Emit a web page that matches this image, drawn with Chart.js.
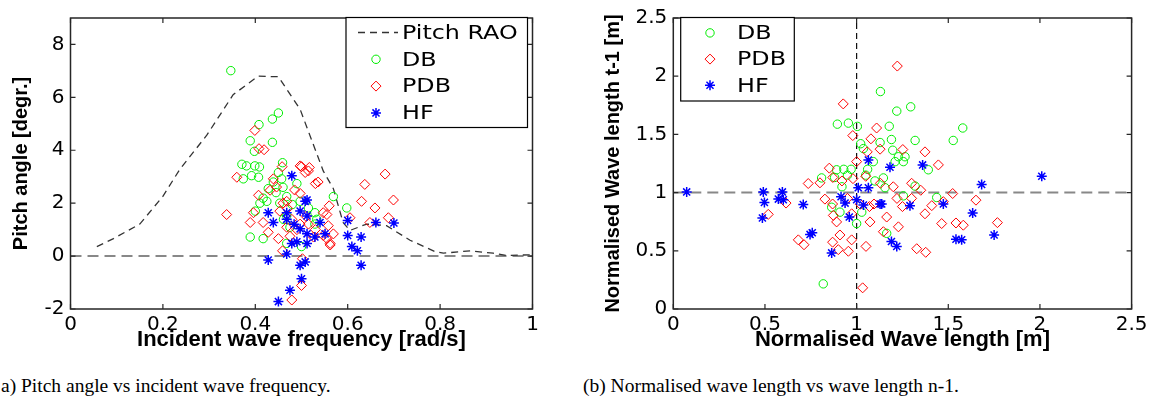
<!DOCTYPE html>
<html>
<head>
<meta charset="utf-8">
<script src="https://cdn.jsdelivr.net/npm/chart.js@4.4.0/dist/chart.umd.min.js"></script>
<style>
body { margin: 0; background: #fff; width: 1152px; height: 405px; overflow: hidden; position: relative; }
canvas { position: absolute; top: 0; }
#pitchChart { left: 0; }
#lengthChart { left: 580px; }
.caption { position: absolute; top: 375px; font-family: "Liberation Serif", serif; font-size: 19.5px; color: #000; white-space: nowrap; }
</style>
</head>
<body>
<canvas id="pitchChart" width="560" height="360"></canvas>
<canvas id="lengthChart" width="572" height="360"></canvas>
<div class="caption" style="left:1px">a) Pitch angle vs incident wave frequency.</div>
<div class="caption" style="left:583px">(b) Normalised wave length vs wave length n-1.</div>
<script>
// ---- (a) pitch angle vs frequency ----
var raoFreq  = [0.057, 0.093, 0.15, 0.2, 0.237, 0.295, 0.352, 0.406, 0.45, 0.497, 0.547, 0.569, 0.59, 0.605, 0.641, 0.684, 0.735, 0.789, 0.807, 0.865, 0.915, 0.944, 0.995];
var raoPitch = [0.36, 0.66, 1.21, 2.26, 3.29, 4.57, 6.1, 6.8, 6.78, 5.55, 3.22, 2.55, 1.27, 0.97, 1.21, 1.15, 0.6, 0.17, 0.11, 0.2, 0.11, 0.02, 0.05];

var dbFreq  = [0.347, 0.408, 0.437, 0.45, 0.389, 0.437, 0.398, 0.459, 0.371, 0.381, 0.399, 0.409, 0.45, 0.374, 0.392, 0.407, 0.439, 0.457, 0.428, 0.41, 0.417, 0.425, 0.453, 0.468, 0.49, 0.461, 0.468, 0.515, 0.497, 0.569, 0.533, 0.475, 0.389, 0.417, 0.468, 0.5, 0.4, 0.598, 0.529, 0.529, 0.48, 0.445, 0.46];
var dbPitch = [7.01, 4.97, 5.18, 5.41, 4.36, 4.3, 3.96, 3.53, 3.47, 3.41, 3.41, 3.37, 3.16, 2.92, 3.04, 2.98, 2.8, 2.92, 2.55, 2.0, 2.19, 2.07, 2.0, 2.25, 2.74, 1.39, 1.52, 1.82, 2.07, 2.25, 1.39, 1.09, 0.72, 0.66, 0.48, 0.36, 1.7, 1.82, 1.21, 1.64, 1.95, 2.4, 2.6];

var pdbFreq  = [0.399, 0.408, 0.419, 0.458, 0.5, 0.517, 0.681, 0.637, 0.699, 0.63, 0.659, 0.688, 0.648, 0.605, 0.56, 0.547, 0.558, 0.562, 0.569, 0.536, 0.515, 0.5, 0.502, 0.338, 0.36, 0.389, 0.396, 0.407, 0.417, 0.428, 0.45, 0.459, 0.479, 0.497, 0.508, 0.53, 0.497, 0.497, 0.432, 0.446, 0.439, 0.46, 0.453, 0.555, 0.479, 0.468, 0.515, 0.555, 0.562, 0.468, 0.526, 0.547, 0.47, 0.49, 0.51, 0.53, 0.485, 0.475];
var pdbPitch = [4.75, 4.06, 4.02, 3.38, 3.38, 3.35, 3.1, 2.71, 2.12, 2.07, 1.82, 1.45, 1.27, 1.45, 1.9, 1.64, 1.15, 0.48, 0.84, 2.8, 3.22, -1.11, -0.1, 1.57, 2.98, 1.27, 1.64, 2.3, 1.27, 0.9, 0.66, 0.2, -1.66, 3.41, 3.16, 2.74, 2.37, 1.21, 2.49, 2.61, 2.92, 2.0, 1.7, 1.57, 1.39, 1.09, 1.21, 0.66, 0.42, 2.07, 0.72, 0.78, 1.8, 1.0, 1.5, 1.0, 2.5, 0.75];

var hfFreq  = [0.479, 0.428, 0.439, 0.468, 0.468, 0.497, 0.512, 0.512, 0.497, 0.512, 0.479, 0.49, 0.512, 0.468, 0.428, 0.497, 0.508, 0.5, 0.475, 0.45, 0.54, 0.551, 0.529, 0.6, 0.6, 0.609, 0.621, 0.629, 0.629, 0.661, 0.7, 0.508, 0.484];
var hfPitch = [3.04, 1.64, 1.27, 1.64, 1.39, 1.7, 2.12, 1.52, 1.03, 0.84, 0.48, 0.54, 0.48, 0.08, -0.15, -0.35, -0.22, -0.86, -1.29, -1.72, 1.27, 0.84, 0.72, 1.35, 0.78, 0.36, 0.2, 0.72, -0.35, 1.27, 1.25, 2.07, 1.2];

var pitchXTicks  = [0, 0.2, 0.4, 0.6, 0.8, 1];
var pitchXLabels = ['0', '0.2', '0.4', '0.6', '0.8', '1'];
var pitchYTicks  = [-2, 0, 2, 4, 6, 8];
var pitchYLabels = ['-2', '0', '2', '4', '6', '8'];

// ---- (b) normalised wave length vs previous ----
var dbLen     = [1.13, 1.219, 1.295, 0.895, 0.955, 1.004, 1.178, 1.579, 1.527, 1.022, 1.037, 1.128, 1.19, 1.319, 1.197, 1.228, 1.264, 1.21, 1.255, 1.091, 1.391, 0.891, 0.93, 0.97, 0.809, 0.818, 0.864, 0.909, 1.0, 1.028, 1.164, 1.319, 1.437, 1.255, 1.146, 1.155, 0.88, 0.95, 1.05, 1.1, 0.92, 1.06];
var dbLenPrev = [1.868, 1.7, 1.737, 1.588, 1.597, 1.569, 1.57, 1.555, 1.448, 1.42, 1.378, 1.43, 1.456, 1.448, 1.364, 1.308, 1.308, 1.266, 1.266, 1.266, 1.196, 1.196, 1.2, 1.2, 1.126, 0.216, 0.874, 0.832, 0.734, 0.832, 0.65, 1.056, 0.958, 0.972, 1.126, 1.042, 1.13, 1.15, 1.15, 1.1, 1.05, 1.2];

var pdbLen     = [0.927, 1.222, 0.979, 1.109, 1.078, 1.128, 1.058, 1.0, 0.851, 1.252, 1.373, 1.446, 0.518, 0.615, 0.736, 0.682, 0.713, 0.8, 0.827, 0.869, 0.873, 0.891, 0.909, 0.869, 0.9, 0.955, 0.973, 0.973, 1.051, 1.033, 1.073, 1.095, 1.164, 1.524, 1.651, 1.473, 1.373, 1.41, 1.464, 1.542, 1.582, 1.768, 1.228, 1.328, 1.377, 1.146, 0.87, 0.92, 0.98, 1.05, 1.13, 1.2, 1.22, 1.3, 1.35, 0.95, 1.02, 1.07, 1.25, 1.3];
var pdbLenPrev = [1.762, 2.087, 1.49, 1.555, 1.462, 1.373, 1.35, 1.266, 1.21, 1.37, 1.35, 1.238, 0.813, 0.91, 1.078, 0.594, 0.552, 1.084, 0.944, 0.902, 0.804, 0.748, 0.636, 0.574, 0.51, 0.496, 0.594, 0.818, 0.538, 0.182, 0.748, 0.902, 0.79, 0.992, 0.935, 0.922, 0.818, 0.888, 0.734, 0.739, 0.72, 0.742, 0.706, 0.518, 0.487, 0.664, 1.13, 1.1, 1.12, 1.14, 1.08, 1.05, 0.95, 1.08, 1.02, 0.95, 0.9, 0.88, 0.88, 0.95];

var hfLen     = [1.064, 1.182, 1.36, 0.073, 0.491, 0.595, 0.497, 0.573, 0.6, 0.486, 0.709, 0.746, 0.758, 0.864, 0.915, 0.937, 0.96, 1.009, 1.0, 1.064, 1.037, 1.128, 1.19, 1.219, 2.01, 1.682, 1.137, 1.291, 1.473, 1.633, 1.542, 1.573, 1.75];
var hfLenPrev = [1.28, 1.218, 1.238, 1.006, 1.006, 1.006, 0.916, 0.944, 0.939, 0.782, 0.897, 0.641, 0.655, 0.482, 0.964, 0.91, 0.79, 1.042, 0.939, 1.042, 0.893, 0.902, 0.58, 0.538, 1.14, 1.07, 0.902, 0.888, 0.902, 0.824, 0.599, 0.594, 0.636];

var lenTicks  = [0, 0.5, 1, 1.5, 2, 2.5];
var lenLabels = ['0', '0.5', '1', '1.5', '2', '2.5'];


function toPoints(xs, ys) {
  var pts = [];
  for (var i = 0; i < xs.length; i++) {
    pts.push({ x: xs[i], y: ys[i] });
  }
  return pts;
}

function markerSet(label, xs, ys, color, style, radius, width, order) {
  return {
    label: label,
    data: toPoints(xs, ys),
    pointStyle: style,
    pointRadius: radius,
    pointBorderWidth: width,
    borderColor: color,
    pointBorderColor: color,
    backgroundColor: 'rgba(0,0,0,0)',
    pointBackgroundColor: 'rgba(0,0,0,0)',
    order: order
  };
}

function dashedLine(label, xs, ys, color, width, dash, order) {
  return {
    label: label,
    data: toPoints(xs, ys),
    showLine: true,
    borderColor: color,
    borderWidth: width,
    borderDash: dash,
    pointRadius: 0,
    fill: false,
    order: order
  };
}

function drawMarker(ctx, style, x, y, r, color, w) {
  ctx.save();
  ctx.strokeStyle = color;
  ctx.lineWidth = w;
  ctx.beginPath();
  if (style === 'circle') {
    ctx.arc(x, y, r, 0, Math.PI * 2);
  } else if (style === 'rectRot') {
    ctx.moveTo(x, y - r); ctx.lineTo(x + r, y); ctx.lineTo(x, y + r); ctx.lineTo(x - r, y); ctx.closePath();
  } else {
    var d = r * Math.SQRT1_2;
    ctx.moveTo(x - r, y); ctx.lineTo(x + r, y);
    ctx.moveTo(x, y - r); ctx.lineTo(x, y + r);
    ctx.moveTo(x - d, y - d); ctx.lineTo(x + d, y + d);
    ctx.moveTo(x - d, y + d); ctx.lineTo(x + d, y - d);
  }
  ctx.stroke();
  ctx.restore();
}

// box round the axes and inward ticks like matlab
var framePlugin = {
  id: 'frame',
  afterDatasetsDraw: function(chart) {
    var ctx = chart.ctx;
    var a = chart.chartArea;
    var xs = chart.scales.x, ys = chart.scales.y;
    ctx.save();
    ctx.strokeStyle = '#262626';
    ctx.lineWidth = 1.5;
    ctx.strokeRect(a.left, a.top, a.right - a.left, a.bottom - a.top);
    ctx.lineWidth = 1.2;
    ctx.beginPath();
    xs.ticks.forEach(function(t) {
      var px = xs.getPixelForValue(t.value);
      ctx.moveTo(px, a.bottom); ctx.lineTo(px, a.bottom - 5);
      ctx.moveTo(px, a.top); ctx.lineTo(px, a.top + 5);
    });
    ys.ticks.forEach(function(t) {
      var py = ys.getPixelForValue(t.value);
      ctx.moveTo(a.left, py); ctx.lineTo(a.left + 5, py);
      ctx.moveTo(a.right, py); ctx.lineTo(a.right - 5, py);
    });
    ctx.stroke();
    ctx.restore();
  }
};

var boxLegend = {
  id: 'boxLegend',
  afterDraw: function(chart, args, opts) {
    var ctx = chart.ctx;
    ctx.save();
    ctx.fillStyle = '#fff';
    ctx.fillRect(opts.left, opts.top, opts.width, opts.height);
    ctx.strokeStyle = '#000';
    ctx.lineWidth = 1.2;
    ctx.strokeRect(opts.left, opts.top, opts.width, opts.height);
    ctx.font = '20px "DejaVu Sans", sans-serif';
    ctx.textBaseline = 'middle';

    // legend rows: highest order first (line, DB, PDB, HF)
    var items = chart.data.datasets.filter(function(ds) { return ds.label; });
    items.sort(function(a, b) { return b.order - a.order; });

    items.forEach(function(ds, row) {
      var y = opts.top + opts.firstRow + row * opts.rowGap;
      if (ds.showLine) {
        ctx.save();
        ctx.strokeStyle = ds.borderColor;
        ctx.lineWidth = ds.borderWidth;
        ctx.setLineDash(ds.borderDash);
        ctx.beginPath();
        ctx.moveTo(opts.lineStart, y);
        ctx.lineTo(opts.lineEnd, y);
        ctx.stroke();
        ctx.restore();
      } else {
        drawMarker(ctx, ds.pointStyle, opts.markerX, y, ds.pointRadius, ds.borderColor, ds.pointBorderWidth);
      }
      // the original figure is stretched sideways, so widen the text a bit
      ctx.save();
      ctx.translate(opts.textX, y + 1);
      ctx.scale(1.19, 1);
      ctx.fillStyle = '#000';
      ctx.fillText(ds.label, 0, 0);
      ctx.restore();
    });
    ctx.restore();
  }
};

function makeScale(min, max, ticks, labels, title, side, titlePad, titleSize) {
  return {
    type: 'linear',
    min: min,
    max: max,
    grid: { display: false, drawTicks: false },
    border: { display: false },
    afterBuildTicks: function(scale) {
      scale.ticks = ticks.map(function(v) { return { value: v }; });
    },
    afterFit: function(scale) {
      if (side.axis === 'x') scale.height = side.size;
      else scale.width = side.size;
    },
    ticks: {
      padding: side.axis === 'x' ? 4 : 6,
      color: '#000',
      font: { family: '"DejaVu Sans", sans-serif', size: 20 },
      callback: function(v) {
        var i = ticks.indexOf(v);
        return i >= 0 ? labels[i] : '';
      }
    },
    title: {
      display: true,
      text: title,
      color: '#000',
      font: { family: '"Liberation Sans", Arial, sans-serif', size: titleSize, weight: 'bold' },
      padding: titlePad
    }
  };
}

Chart.defaults.animation = false;

var pitchChart = new Chart(document.getElementById('pitchChart'), {
  type: 'scatter',
  data: {
    datasets: [
      markerSet('HF', hfFreq, hfPitch, '#0000ff', 'star', 5, 1.5, 0),
      markerSet('PDB', pdbFreq, pdbPitch, '#ff0000', 'rectRot', 5, 1, 1),
      markerSet('DB', dbFreq, dbPitch, '#00ee00', 'circle', 4.2, 1, 2),
      dashedLine('Pitch RAO', raoFreq, raoPitch, '#333333', 1.3, [7, 5], 3),
      dashedLine('', [0, 1], [0, 0], '#888888', 2, [11, 6], 4)
    ]
  },
  options: {
    responsive: false,
    animation: false,
    layout: { padding: { top: 11, right: 27.5, left: 0, bottom: 0 } },
    scales: {
      x: makeScale(0, 1, pitchXTicks, pitchXLabels, 'Incident wave frequency [rad/s]', { axis: 'x', size: 51 }, { top: 0, bottom: 7 }, 22),
      y: makeScale(-2, 9, pitchYTicks, pitchYLabels, 'Pitch angle [degr.]', { axis: 'y', size: 70.5 }, { top: 9, bottom: 0 }, 20)
    },
    plugins: {
      legend: { display: false },
      tooltip: { enabled: false },
      boxLegend: { left: 346, top: 17.5, width: 181.5, height: 110, firstRow: 15, rowGap: 26.8, lineStart: 358, lineEnd: 398, markerX: 376, textX: 402 }
    }
  },
  plugins: [framePlugin, boxLegend]
});

var lengthChart = new Chart(document.getElementById('lengthChart'), {
  type: 'scatter',
  data: {
    datasets: [
      markerSet('DB', dbLen, dbLenPrev, '#00ee00', 'circle', 4.2, 1, 2),
      markerSet('PDB', pdbLen, pdbLenPrev, '#ff0000', 'rectRot', 5, 1, 1),
      markerSet('HF', hfLen, hfLenPrev, '#0000ff', 'star', 5, 1.5, 0),
      dashedLine('', [0, 2.5], [1, 1], '#888888', 2, [11, 6], 4),
      dashedLine('', [1, 1], [0, 2.5], '#111111', 1.2, [6, 4], 3)
    ]
  },
  options: {
    responsive: false,
    animation: false,
    layout: { padding: { top: 11.5, right: 20.4, left: 0, bottom: 0 } },
    scales: {
      x: makeScale(0, 2.5, lenTicks, lenLabels, 'Normalised Wave length [m]', { axis: 'x', size: 51 }, { top: 0, bottom: 7 }, 22),
      y: makeScale(0, 2.5, lenTicks, lenLabels, 'Normalised Wave length t-1 [m]', { axis: 'y', size: 93.3 }, { top: 21, bottom: 0 }, 20)
    },
    plugins: {
      legend: { display: false },
      tooltip: { enabled: false },
      boxLegend: { left: 100.7, top: 17.5, width: 113.6, height: 83.5, firstRow: 15.4, rowGap: 26.2, markerX: 130, textX: 157 }
    }
  },
  plugins: [framePlugin, boxLegend]
});
</script>
</body>
</html>
